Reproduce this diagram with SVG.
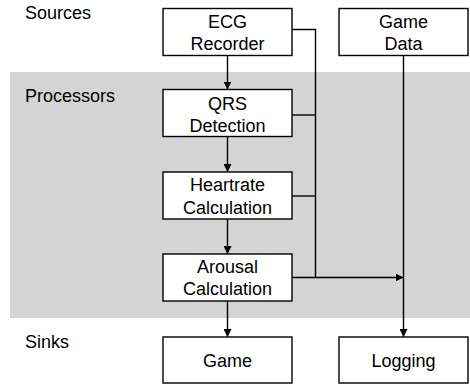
<svg xmlns="http://www.w3.org/2000/svg" width="470" height="385" viewBox="0 0 470 385">
  <defs>
    <marker id="arrow" viewBox="0 0 10 10" refX="10" refY="5" markerWidth="8" markerHeight="8" markerUnits="userSpaceOnUse" orient="auto">
      <path d="M0,0 L10,5 L0,10 z" fill="#000"/>
    </marker>
    <style>
      .box { fill: #fff; stroke: #000; stroke-width: 1.4; }
      .lbl { font-family: "Liberation Sans", Arial, sans-serif; font-size: 18px; fill: #000; }
      .mid { text-anchor: middle; }
      .wire { fill: none; stroke: #000; stroke-width: 1.4; }
    </style>
  </defs>

  <!-- processing band -->
  <rect x="10" y="72" width="460" height="246" fill="#d4d4d4"/>

  <!-- tier labels -->
  <text class="lbl" x="25" y="19">Sources</text>
  <text class="lbl" x="25" y="102">Processors</text>
  <text class="lbl" x="25" y="348">Sinks</text>

  <!-- connectors -->
  <g id="connectors">
    <line class="wire" x1="227.5" y1="55.5" x2="227.5" y2="89.5" marker-end="url(#arrow)"/>
    <line class="wire" x1="227.5" y1="136.5" x2="227.5" y2="172" marker-end="url(#arrow)"/>
    <line class="wire" x1="227.5" y1="219" x2="227.5" y2="254" marker-end="url(#arrow)"/>
    <line class="wire" x1="227.5" y1="301" x2="227.5" y2="337" marker-end="url(#arrow)"/>
    <polyline class="wire" points="292,29.5 315.5,29.5 315.5,277.5"/>
    <line class="wire" x1="292" y1="115" x2="315.5" y2="115"/>
    <line class="wire" x1="292" y1="196" x2="315.5" y2="196"/>
    <line class="wire" x1="292" y1="277.5" x2="403.5" y2="277.5" marker-end="url(#arrow)"/>
    <line class="wire" x1="403.5" y1="55.5" x2="403.5" y2="337" marker-end="url(#arrow)"/>
  </g>

  <g id="ecg-recorder">
    <rect class="box" x="163" y="8.5" width="129" height="47"/>
    <text class="lbl mid" x="227.5" y="28">ECG</text>
    <text class="lbl mid" x="227.5" y="50">Recorder</text>
  </g>

  <g id="game-data">
    <rect class="box" x="339" y="8.5" width="129" height="47"/>
    <text class="lbl mid" x="403.5" y="28">Game</text>
    <text class="lbl mid" x="403.5" y="50">Data</text>
  </g>

  <g id="qrs-detection">
    <rect class="box" x="163" y="89.5" width="129" height="47"/>
    <text class="lbl mid" x="227.5" y="109.5">QRS</text>
    <text class="lbl mid" x="227.5" y="131.5">Detection</text>
  </g>

  <g id="heartrate-calculation">
    <rect class="box" x="163" y="172" width="129" height="47"/>
    <text class="lbl mid" x="227.5" y="191">Heartrate</text>
    <text class="lbl mid" x="227.5" y="213.5">Calculation</text>
  </g>

  <g id="arousal-calculation">
    <rect class="box" x="163" y="254" width="129" height="47"/>
    <text class="lbl mid" x="227.5" y="272.5">Arousal</text>
    <text class="lbl mid" x="227.5" y="294.5">Calculation</text>
  </g>

  <g id="game">
    <rect class="box" x="163" y="337" width="129" height="46"/>
    <text class="lbl mid" x="227.5" y="367">Game</text>
  </g>

  <g id="logging">
    <rect class="box" x="339" y="337" width="129" height="46"/>
    <text class="lbl mid" x="403.5" y="367">Logging</text>
  </g>
</svg>
